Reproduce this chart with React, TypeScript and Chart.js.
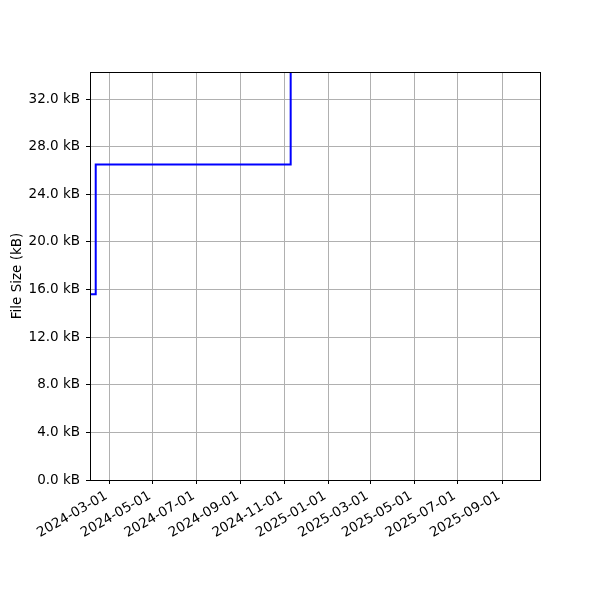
import React, { useEffect, useRef } from "react";
import { Chart, registerables } from "chart.js";

Chart.register(...registerables);

// Data: step changes in file size (kB)
const changeDates: string[] = ["2024-02-01", "2024-02-11", "2024-11-09T12:00:00", "2024-12-15"];
const fileSizesKB: number[] = [15.6, 26.5, 38.0, 38.0];

// Axis ranges and ticks
const xMinDate = "2024-02-03";
const xMaxDate = "2025-10-24";
const xTickLabels: string[] = [
  "2024-03-01", "2024-05-01", "2024-07-01", "2024-09-01", "2024-11-01",
  "2025-01-01", "2025-03-01", "2025-05-01", "2025-07-01", "2025-09-01",
];
const yTicksKB: number[] = [0, 4, 8, 12, 16, 20, 24, 28, 32];
const yMinKB = 0;
const yMaxKB = 34.27;
const yTitle = "File Size (kB)";

const toMs = (s: string): number => {
  const iso = s.includes("T") ? s + "Z" : s + "T00:00:00Z";
  return Date.parse(iso);
};

const FONT = "'DejaVu Sans', sans-serif";
const FS = 13.5;

const frameBorder = {
  id: "frameBorder",
  afterDatasetsDraw(chart: any) {
    const { ctx, chartArea } = chart;
    ctx.save();
    ctx.strokeStyle = "#000";
    ctx.lineWidth = 1;
    ctx.strokeRect(
      Math.round(chartArea.left) + 0.5,
      Math.round(chartArea.top) + 0.5,
      Math.round(chartArea.right - chartArea.left),
      Math.round(chartArea.bottom - chartArea.top)
    );
    ctx.restore();
  },
};

export default function App() {
  const ref = useRef<HTMLCanvasElement | null>(null);

  useEffect(() => {
    if (!ref.current) return;
    const points = changeDates.map((d, i) => ({ x: toMs(d), y: fileSizesKB[i] }));
    const chart = new Chart(ref.current, {
      type: "line",
      data: {
        datasets: [
          {
            data: points,
            borderColor: "blue",
            borderWidth: 2,
            pointRadius: 0,
            stepped: "before",
            fill: false,
            clip: 0,
          } as any,
        ],
      },
      options: {
        animation: false,
        responsive: false,
        devicePixelRatio: 1,
        layout: { padding: { top: 72, right: 60, left: 0, bottom: 0 } },
        plugins: {
          legend: { display: false },
          tooltip: { enabled: false },
        },
        scales: {
          x: {
            type: "linear",
            min: toMs(xMinDate),
            max: toMs(xMaxDate),
            afterBuildTicks: (scale: any) => {
              scale.ticks = xTickLabels.map((t) => ({ value: toMs(t) }));
            },
            afterFit: (scale: any) => {
              scale.height = 120;
            },
            ticks: {
              autoSkip: false,
              minRotation: 30,
              maxRotation: 30,
              color: "#000",
              padding: 4,
              labelOffset: -3,
              font: { family: FONT, size: FS },
              callback: (v: any) => new Date(Number(v)).toISOString().slice(0, 10),
            },
            grid: {
              color: "#b0b0b0",
              lineWidth: 1,
              drawTicks: true,
              tickLength: 4,
              tickColor: "#000",
            },
            border: { display: true, color: "#000", width: 1 },
          },
          y: {
            type: "linear",
            min: yMinKB,
            max: yMaxKB,
            afterBuildTicks: (scale: any) => {
              scale.ticks = yTicksKB.map((v) => ({ value: v }));
            },
            afterFit: (scale: any) => {
              scale.width = 90;
            },
            ticks: {
              color: "#000",
              padding: 6,
              font: { family: FONT, size: FS },
              callback: (v: any) => Number(v).toFixed(1) + " kB",
            },
            grid: {
              color: "#b0b0b0",
              lineWidth: 1,
              drawTicks: true,
              tickLength: 4,
              tickColor: "#000",
            },
            border: { display: true, color: "#000", width: 1 },
            title: {
              display: true,
              text: yTitle,
              color: "#000",
              font: { family: FONT, size: FS },
              padding: { top: 9, bottom: 0 },
            },
          },
        },
      },
      plugins: [frameBorder],
    });
    return () => chart.destroy();
  }, []);

  return (
    <div style={{ position: "fixed", left: 0, top: 0, width: 600, height: 600, background: "#fff" }}>
      <canvas ref={ref} width={600} height={600} style={{ display: "block", width: 600, height: 600 }} />
    </div>
  );
}
